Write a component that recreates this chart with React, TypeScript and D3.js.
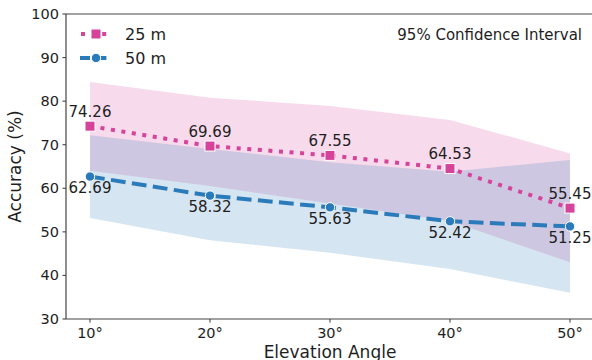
import React from "react";
import * as d3 from "d3";

const angles = [10, 20, 30, 40, 50];
const angleLabels = ["10°", "20°", "30°", "40°", "50°"];
const yTicks = [30, 40, 50, 60, 70, 80, 90, 100];
const acc25 = [74.26, 69.69, 67.55, 64.53, 55.45];
const acc50 = [62.69, 58.32, 55.63, 52.42, 51.25];
const ci25Upper = [84.4, 80.8, 78.9, 75.7, 68.0];
const ci25Lower = [64.0, 60.5, 56.5, 52.5, 43.0];
const ci50Upper = [72.2, 69.0, 66.0, 63.8, 66.5];
const ci50Lower = [53.2, 48.1, 45.2, 41.5, 36.0];
const seriesNames = ["25 m", "50 m"];

const PINK = "#d5449a";
const BLUE = "#2b7bba";
const FONT = "DejaVu Sans, sans-serif";
const TXT = "#1e1e1e";

export default function App() {
  const left = 66, right = 594, top = 14, bottom = 319;
  const x = d3.scaleLinear().domain([8, 52]).range([left, right]);
  const y = d3.scaleLinear().domain([30, 100]).range([bottom, top]);

  const area = (lo: number[], hi: number[]) =>
    d3.area<number>()
      .x((d) => x(d))
      .y0((_, i) => y(lo[i]))
      .y1((_, i) => y(hi[i]))(angles) || "";
  const line = (vals: number[]) =>
    d3.line<number>().x((d) => x(d)).y((_, i) => y(vals[i]))(angles) || "";

  return (
    <svg width={592} height={360} style={{ position: "absolute", left: 0, top: 0, background: "#fff" }}>
      <defs>
        <clipPath id="plot">
          <rect x={left} y={top} width={right - left} height={bottom - top} />
        </clipPath>
      </defs>
      <g clipPath="url(#plot)">
        <path d={area(ci25Lower, ci25Upper)} fill={PINK} fillOpacity={0.2} />
        <path d={area(ci50Lower, ci50Upper)} fill={BLUE} fillOpacity={0.2} />
        <path d={line(acc25)} fill="none" stroke={PINK} strokeWidth={4} strokeDasharray="4 6.6" />
        <path d={line(acc50)} fill="none" stroke={BLUE} strokeWidth={4} strokeDasharray="14.8 6.4" />
        {angles.map((a, i) => (
          <rect key={"s" + i} x={x(a) - 5} y={y(acc25[i]) - 5} width={10} height={10}
            fill={PINK} stroke="#fff" strokeWidth={1} />
        ))}
        {angles.map((a, i) => (
          <circle key={"c" + i} cx={x(a)} cy={y(acc50[i])} r={4.7}
            fill={BLUE} stroke="#fff" strokeWidth={1} />
        ))}
      </g>
      {angles.map((a, i) => (
        <text key={"l25" + i} x={x(a)} y={y(acc25[i]) - 14.5} textAnchor="middle"
          dominantBaseline="central" fontFamily={FONT} fontSize={15} fill={TXT}>
          {acc25[i].toFixed(2)}
        </text>
      ))}
      {angles.map((a, i) => (
        <text key={"l50" + i} x={x(a)} y={y(acc50[i]) + 11.5} textAnchor="middle"
          dominantBaseline="central" fontFamily={FONT} fontSize={15} fill={TXT}>
          {acc50[i].toFixed(2)}
        </text>
      ))}
      {/* spines */}
      <g stroke="#444" strokeWidth={1.2} fill="none">
        <line x1={left} x2={left} y1={top} y2={bottom} />
        <line x1={left} x2={right} y1={bottom} y2={bottom} />
        <line x1={left} x2={right} y1={top} y2={top} />
        <line x1={right} x2={right} y1={top} y2={bottom} />
      </g>
      {yTicks.map((t) => (
        <g key={"yt" + t}>
          <line x1={left - 3.5} x2={left} y1={y(t)} y2={y(t)} stroke="#444" strokeWidth={1.1} />
          <text x={left - 7} y={y(t)} textAnchor="end" dominantBaseline="central"
            fontFamily={FONT} fontSize={14.5} fill={TXT}>{t}</text>
        </g>
      ))}
      {angles.map((a, i) => (
        <g key={"xt" + a}>
          <line x1={x(a)} x2={x(a)} y1={bottom} y2={bottom + 3.5} stroke="#444" strokeWidth={1.1} />
          <text x={x(a)} y={338} textAnchor="middle" fontFamily={FONT} fontSize={14.5} fill={TXT}>
            {angleLabels[i]}
          </text>
        </g>
      ))}
      <text x={(left + right) / 2} y={357.5} textAnchor="middle" fontFamily={FONT} fontSize={17} fill={TXT}>
        Elevation Angle
      </text>
      <text transform={`translate(21, ${(top + bottom) / 2}) rotate(-90)`} textAnchor="middle"
        fontFamily={FONT} fontSize={17} fill={TXT}>
        Accuracy (%)
      </text>
      <text x={582} y={40} textAnchor="end" fontFamily={FONT} fontSize={15} fill={TXT}>
        95% Confidence Interval
      </text>
      {/* legend */}
      <g>
        <line x1={80} x2={112} y1={34} y2={34} stroke={PINK} strokeWidth={4} strokeDasharray="4 6.6" strokeDashoffset={-1} />
        <rect x={91} y={29} width={10} height={10} fill={PINK} stroke="#fff" strokeWidth={1} />
        <text x={125} y={34} dominantBaseline="central" fontFamily={FONT} fontSize={16} fill={TXT}>{seriesNames[0]}</text>
        <line x1={80} x2={112} y1={58} y2={58} stroke={BLUE} strokeWidth={4} strokeDasharray="10 6.4" />
        <circle cx={96} cy={58} r={4.7} fill={BLUE} stroke="#fff" strokeWidth={1} />
        <text x={125} y={58} dominantBaseline="central" fontFamily={FONT} fontSize={16} fill={TXT}>{seriesNames[1]}</text>
      </g>
    </svg>
  );
}
